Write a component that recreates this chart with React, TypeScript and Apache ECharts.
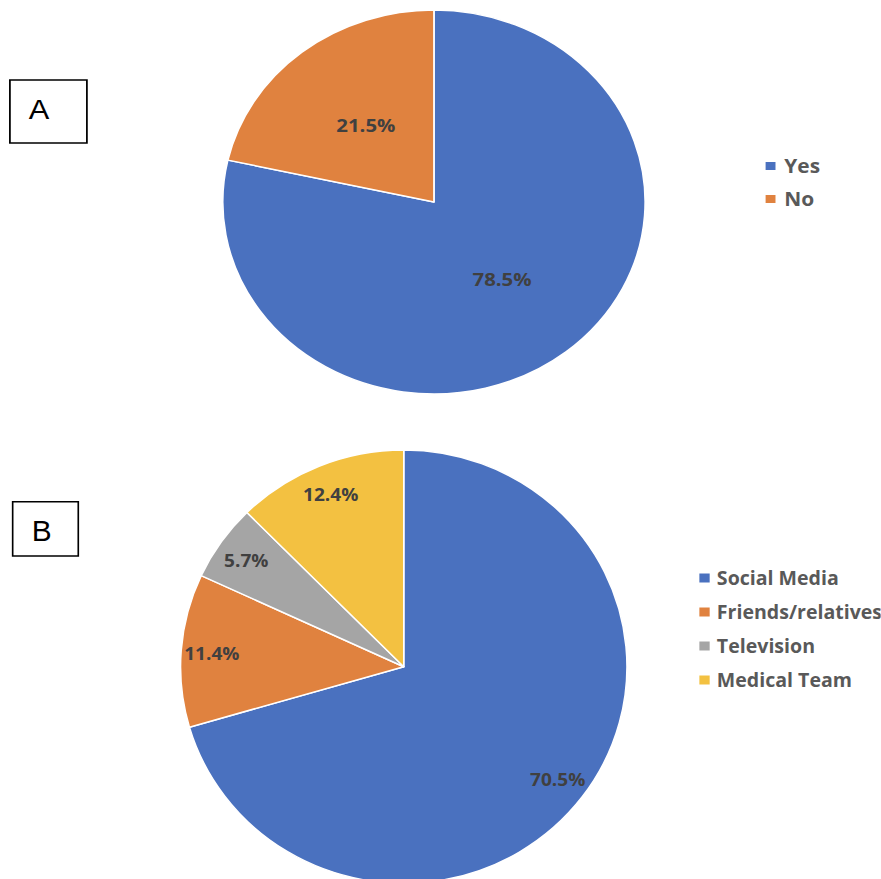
import { useEffect, useRef } from 'react';
import * as echarts from 'echarts';

const awarenessCategories = ['Yes', 'No'];
const awarenessValues = [78.5, 21.5];
const sourceCategories = ['Social Media', 'Friends/relatives', 'Television', 'Medical Team'];
const sourceValues = [70.5, 11.4, 5.7, 12.4];
const panelLetters = ['A', 'B'];

const colorsA = ['#4A71BF', '#E0823F'];
const colorsB = ['#4A71BF', '#E0823F', '#A5A5A5', '#F3C141'];
const FONT = '"Open Sans", "Noto Sans", sans-serif';

const fmt = (p: any) => Number(p.value).toFixed(1) + '%';

function optionA(): any {
  const data = awarenessCategories.map((n, i) => ({ name: n, value: awarenessValues[i] }));
  return {
    animation: false,
    color: colorsA,
    legend: {
      orient: 'vertical',
      left: 694,
      top: 156,
      padding: 0,
      itemWidth: 11,
      itemHeight: 10,
      itemGap: 13,
      icon: 'rect',
      selectedMode: false,
      data: awarenessCategories,
      textStyle: { fontFamily: FONT, fontWeight: 'bold', fontSize: 19, color: '#595959', lineHeight: 20, padding: [0, 0, 0, 2] },
    },
    graphic: [
      { type: 'rect', shape: { x: 9, y: 80, width: 70, height: 63 }, style: { fill: '#fff', stroke: '#000', lineWidth: 1.6 } },
      { type: 'text', x: 35.5, y: 109, style: { text: panelLetters[0], fontFamily: '"Liberation Sans", Arial, sans-serif', fontSize: 28, fill: '#000', align: 'center', verticalAlign: 'middle' } },
    ],
    series: [
      {
        type: 'pie',
        center: [394.5, 202],
        radius: [0, 192],
        startAngle: 90,
        clockwise: true,
        data,
        itemStyle: { borderColor: '#fff', borderWidth: 1.5 },
        label: { show: true, position: 'inside', formatter: fmt, fontFamily: FONT, fontWeight: 'bold', fontSize: 18.5, color: '#404040' },
        labelLine: { show: false },
        emphasis: { disabled: true },
        silent: true,
      },
    ],
  };
}

function optionB(): any {
  const data = sourceCategories.map((n, i) => ({ name: n, value: sourceValues[i] }));
  return {
    animation: false,
    color: colorsB,
    legend: {
      orient: 'vertical',
      left: 677,
      top: 138,
      padding: 0,
      itemWidth: 12,
      itemHeight: 11,
      itemGap: 14,
      icon: 'rect',
      selectedMode: false,
      data: sourceCategories,
      textStyle: { fontFamily: FONT, fontWeight: 'bold', fontSize: 19, color: '#595959', lineHeight: 20, padding: [0, 0, 0, 1] },
    },
    graphic: [
      { type: 'rect', shape: { x: 12.3, y: 71.7, width: 63.7, height: 54.3 }, style: { fill: '#fff', stroke: '#000', lineWidth: 1.6 } },
      { type: 'text', x: 40.5, y: 101, style: { text: panelLetters[1], fontFamily: '"Liberation Sans", Arial, sans-serif', fontSize: 29, fill: '#000', align: 'center', verticalAlign: 'middle' } },
    ],
    series: [
      {
        type: 'pie',
        center: [392, 236.7],
        radius: [0, 216.7],
        startAngle: 90,
        clockwise: true,
        data,
        itemStyle: { borderColor: '#fff', borderWidth: 1.5 },
        label: { show: false },
        labelLine: { show: false },
        emphasis: { disabled: true },
        silent: true,
      },
      {
        type: 'pie',
        center: [392, 236.7],
        radius: [151, 216.7],
        startAngle: 90,
        clockwise: true,
        data,
        itemStyle: { color: 'rgba(0,0,0,0)', borderWidth: 0 },
        label: { show: true, position: 'inside', formatter: fmt, fontFamily: FONT, fontWeight: 'bold', fontSize: 18.5, color: '#404040' },
        labelLine: { show: false },
        emphasis: { disabled: true },
        silent: true,
        z: 3,
      },
    ],
  };
}

export default function App() {
  const refA = useRef<HTMLDivElement>(null);
  const refB = useRef<HTMLDivElement>(null);
  useEffect(() => {
    const a = echarts.init(refA.current!, undefined, { renderer: 'svg' });
    const b = echarts.init(refB.current!, undefined, { renderer: 'svg' });
    a.setOption(optionA());
    b.setOption(optionB());
    return () => {
      a.dispose();
      b.dispose();
    };
  }, []);
  return (
    <div style={{ position: 'fixed', left: 0, top: 0, width: 881, height: 879, overflow: 'hidden', background: '#fff' }}>
      <div
        ref={refA}
        style={{ position: 'absolute', left: 0, top: 0, width: 801, height: 430, transform: 'scaleX(1.1)', transformOrigin: '0 0' }}
      />
      <div
        ref={refB}
        style={{ position: 'absolute', left: 0, top: 430, width: 855, height: 449, transform: 'scaleX(1.03)', transformOrigin: '0 0' }}
      />
    </div>
  );
}
